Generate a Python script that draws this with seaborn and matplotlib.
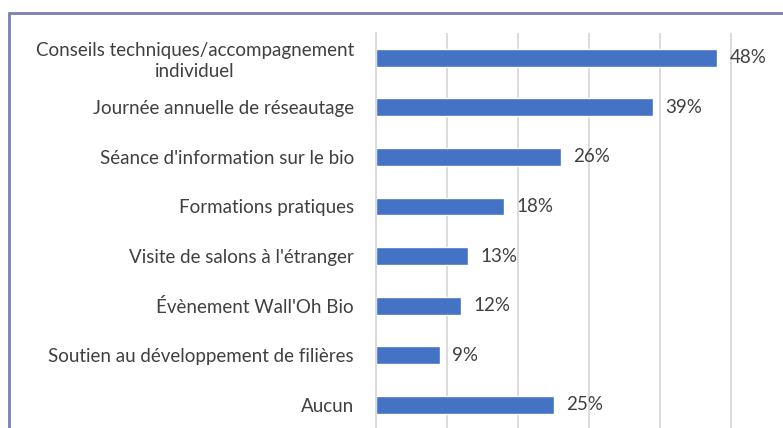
import matplotlib
matplotlib.use("Agg")
import matplotlib.pyplot as plt
import seaborn as sns
import pandas as pd
from matplotlib.lines import Line2D

categories = [
    "Conseils techniques/accompagnement\nindividuel",
    "Journée annuelle de réseautage",
    "Séance d'information sur le bio",
    "Formations pratiques",
    "Visite de salons à l'étranger",
    "Évènement Wall'Oh Bio",
    "Soutien au développement de filières",
    "Aucun",
]
values = [48, 39, 26, 18, 13, 12, 9, 25]
value_labels = ["48%", "39%", "26%", "18%", "13%", "12%", "9%", "25%"]

sns.set_theme(style="white")
plt.rcParams['font.family'] = ['Lato', 'DejaVu Sans']

W, H = 783, 428
fig = plt.figure(figsize=(W / 100, H / 100), dpi=100)
ax = fig.add_axes([376 / W, 0, 1 - 376 / W, (H - 33) / H])

df = pd.DataFrame({"cat": categories, "val": values})
sns.barplot(data=df, x="val", y="cat", orient="h", color="#4472C4",
            saturation=1, width=0.36, ax=ax)

ax.set_xlim(0, (W - 376) / 7.1)
ax.set_ylim(7.47, -0.5)
ax.set_xticks([0, 10, 20, 30, 40, 50])
ax.set_xticklabels([])
ax.tick_params(axis="x", length=0)
ax.tick_params(axis="y", length=0, pad=16, labelsize=13.5, labelcolor="#404040")
ax.grid(axis="x", color="#d9d9d9", linewidth=1.3)
ax.set_axisbelow(True)
for s in ["top", "right", "bottom"]:
    ax.spines[s].set_visible(False)
ax.spines["left"].set_color("#d9d9d9")
ax.spines["left"].set_linewidth(1.3)
ax.set_xlabel("")
ax.set_ylabel("")
for lbl in ax.get_yticklabels():
    lbl.set_horizontalalignment("right")
    lbl.set_multialignment("center")
    lbl.set_linespacing(1.25)

for i, (v, t) in enumerate(zip(values, value_labels)):
    ax.annotate(t, xy=(v, i), xytext=(9, 0), textcoords="offset points",
                ha="left", va="center", fontsize=13.5, color="#404040")

# outer frame (top and left visible)
fig.add_artist(Line2D([9 / W, 1], [1 - 13 / H, 1 - 13 / H], transform=fig.transFigure,
                      color="#7a80b3", linewidth=2))
fig.add_artist(Line2D([9 / W, 9 / W], [0, 1 - 13 / H], transform=fig.transFigure,
                      color="#7a80b3", linewidth=2))

fig.savefig("out.png", dpi=100)
